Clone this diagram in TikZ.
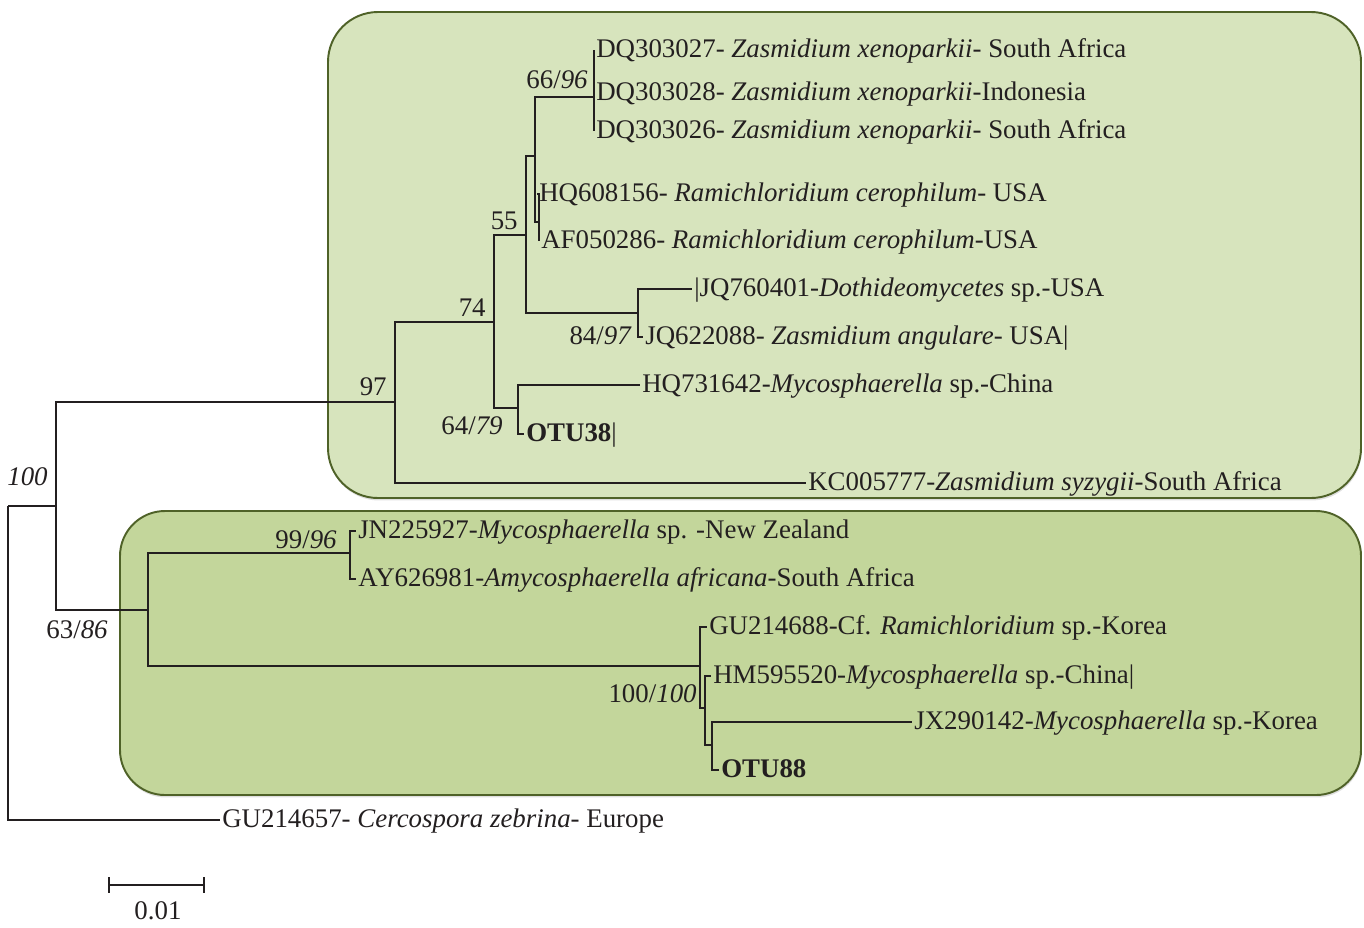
\documentclass[tikz,border=0pt]{standalone}
\usepackage{fontspec}
\setmainfont{Liberation Serif}
\usetikzlibrary{arrows.meta,shadows}
\definecolor{cladeAfill}{HTML}{D7E4BD}
\definecolor{cladeBfill}{HTML}{C3D69B}
\definecolor{cladeborder}{HTML}{4F6228}
\definecolor{treeline}{HTML}{231F20}
\tikzset{
  clade/.style={draw=cladeborder, line width=1.1pt, drop shadow={shadow xshift=0.4pt, shadow yshift=-1.4pt, opacity=0.25}},
  branch/.style={draw=treeline, line width=1.3pt},
  leaf/.style={anchor=west, inner xsep=1.1pt, inner ysep=0pt, text height=0.88em, text depth=0pt, font=\fontsize{15.3}{17}\selectfont, text=treeline},
  boot/.style={anchor=east, inner sep=0pt, text height=0.88em, text depth=0pt, font=\fontsize{15.3}{17}\selectfont, text=treeline},
  scalebar/.style={branch, {Bar[width=9pt]}-{Bar[width=9pt]}}
}

\begin{document}
\begin{tikzpicture}[x=0.02cm, y=-0.02cm]
\useasboundingbox (0,0) rectangle (1364,927);

% Clade boxes
\filldraw[clade, fill=cladeAfill, rounded corners=1cm]   (328,12)  rectangle (1361,498);
\filldraw[clade, fill=cladeBfill, rounded corners=0.9cm] (120,511) rectangle (1361,795);

% --- Internal nodes ---
\coordinate (root) at (8,506);
\coordinate (nA) at (56,506);
\coordinate (nC) at (395,402);
\coordinate (nD) at (494,322);
\coordinate (nE) at (518,408);
\coordinate (nF) at (526,235);
\coordinate (nG) at (535,156);
\coordinate (nH) at (539,222);
\coordinate (nI) at (594,97);
\coordinate (nJ) at (638,313);
\coordinate (nB) at (148,610);
\coordinate (nK) at (350,553);
\coordinate (nL) at (700,666);
\coordinate (nM) at (705,708);
\coordinate (nN) at (712,745);

% --- Leaves: upper clade ---
\node[leaf] (lDQ27) at (594,50)  {DQ303027- \textit{Zasmidium xenoparkii}- South Africa};
\node[leaf] (lDQ28) at (594,93)  {DQ303028- \textit{Zasmidium xenoparkii}-Indonesia};
\node[leaf] (lDQ26) at (594,131) {DQ303026- \textit{Zasmidium xenoparkii}- South Africa};
\node[leaf] (lHQ60) at (537,194) {HQ608156- \textit{Ramichloridium cerophilum}- USA};
\node[leaf] (lAF05) at (539,241) {AF050286- \textit{Ramichloridium cerophilum}-USA};
\node[leaf] (lJQ76) at (692,289) {|JQ760401-\textit{Dothideomycetes} sp.-USA};
\node[leaf] (lJQ62) at (643,337) {JQ622088- \textit{Zasmidium angulare}- USA|};
\node[leaf] (lHQ73) at (640,385) {HQ731642-\textit{Mycosphaerella} sp.-China};
\node[leaf] (lOTU38) at (524,434) {\textbf{OTU38}|};
\node[leaf] (lKC00) at (806,483) {KC005777-\textit{Zasmidium syzygii}-South Africa};

% --- Leaves: lower clade ---
\node[leaf] (lJN22) at (356,531) {JN225927-\textit{Mycosphaerella} sp. -New Zealand};
\node[leaf] (lAY62) at (356,579) {AY626981-\textit{Amycosphaerella africana}-South Africa};
\node[leaf] (lGU68) at (707,627) {GU214688-Cf. \textit{Ramichloridium} sp.-Korea};
\node[leaf] (lHM59) at (711,676) {HM595520-\textit{Mycosphaerella} sp.-China|};
\node[leaf] (lJX29) at (912,722) {JX290142-\textit{Mycosphaerella} sp.-Korea};
\node[leaf] (lOTU88) at (719,770) {\textbf{OTU88}};

% --- Outgroup ---
\node[leaf] (lGU57) at (220,820) {GU214657- \textit{Cercospora zebrina}- Europe};

% --- Branches ---
\draw[branch] (root) |- (nA);
\draw[branch] (root) |- (lGU57.west);
\draw[branch] (nA) |- (nC);
\draw[branch] (nA) |- (nB);
% upper clade
\draw[branch] (nC) |- (nD);
\draw[branch] (nC) |- (lKC00.west);
\draw[branch] (nD) |- (nF);
\draw[branch] (nD) |- (nE);
\draw[branch] (nE) |- (lHQ73.west);
\draw[branch] (nE) |- (lOTU38.west);
\draw[branch] (nF) |- (nG);
\draw[branch] (nF) |- (nJ);
\draw[branch] (nG) |- (nI);
\draw[branch] (nG) |- (nH);
\draw[branch] (nH) |- (lHQ60.west);
\draw[branch] (nH) |- (lAF05.west);
\draw[branch] (nI) |- (lDQ27.west);
\draw[branch] (nI) |- (lDQ28.west);
\draw[branch] (nI) |- (lDQ26.west);
\draw[branch] (nJ) |- (lJQ76.west);
\draw[branch] (nJ) |- (lJQ62.west);
% lower clade
\draw[branch] (nB) |- (nK);
\draw[branch] (nB) |- (nL);
\draw[branch] (nK) |- (lJN22.west);
\draw[branch] (nK) |- (lAY62.west);
\draw[branch] (nL) |- (lGU68.west);
\draw[branch] (nL) |- (nM);
\draw[branch] (nM) |- (lHM59.west);
\draw[branch] (nM) |- (nN);
\draw[branch] (nN) |- (lJX29.west);
\draw[branch] (nN) |- (lOTU88.west);

% --- Support values ---
\node[boot] (bA) at (48,478)  {\textit{100}};
\node[boot] (bB) at (108,631) {63/\textit{86}};
\node[boot] (bC) at (387,388) {97};
\node[boot] (bD) at (486,309) {74};
\node[boot] (bE) at (503,427) {64/\textit{79}};
\node[boot] (bF) at (518,222) {55};
\node[boot] (bI) at (588,81)  {66/\textit{96}};
\node[boot] (bJ) at (632,337) {84/\textit{97}};
\node[boot] (bK) at (337,541) {99/\textit{96}};
\node[boot] (bL) at (697,695) {100/\textit{100}};

% --- Scale bar ---
\coordinate (sb1) at (108,885);
\coordinate (sb2) at (205,885);
\draw[scalebar] (sb1) -- (sb2);
\node[boot, anchor=center] (sbl) at (158,912) {0.01};

\end{tikzpicture}
\end{document}
